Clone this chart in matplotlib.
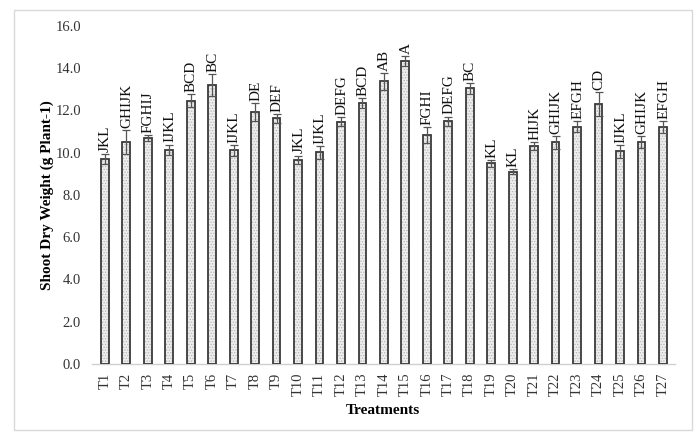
import matplotlib
matplotlib.use("Agg")
import matplotlib.pyplot as plt
from matplotlib.patches import Rectangle
from matplotlib.ticker import FormatStrFormatter

treatments = [f"T{i}" for i in range(1, 28)]
shoot_dry_weight = [9.70, 10.49, 10.67, 10.14, 12.45, 13.19, 10.10, 11.90, 11.62,
                    9.67, 10.01, 11.46, 12.33, 13.36, 14.34, 10.83, 11.48, 13.03,
                    9.50, 9.10, 10.30, 10.49, 11.23, 12.30, 10.06, 10.49, 11.20]
std_error = [0.24, 0.58, 0.14, 0.24, 0.31, 0.52, 0.24, 0.42, 0.20,
             0.19, 0.31, 0.20, 0.24, 0.40, 0.24, 0.36, 0.22, 0.24,
             0.16, 0.12, 0.20, 0.31, 0.28, 0.55, 0.30, 0.27, 0.27]
groups = ["JKL", "GHIJK", "FGHIJ", "IJKL", "BCD", "BC", "IJKL", "DE", "DEF",
          "JKL", "IJKL", "DEFG", "BCD", "AB", "A", "FGHI", "DEFG", "BC",
          "KL", "KL", "HIJK", "GHIJK", "EFGH", "CD", "IJKL", "GHIJK", "EFGH"]

plt.rcParams["font.family"] = ["Liberation Serif", "DejaVu Serif"]
plt.rcParams["hatch.linewidth"] = 0.6

fig = plt.figure(figsize=(6.97, 4.34), dpi=100)
ax = fig.add_axes([0.132, 0.161, 0.836, 0.780])

# outer chart frame
fig.patches.append(Rectangle((0.020, 0.009), 0.973, 0.968, transform=fig.transFigure,
                             fill=False, edgecolor="#d9d9d9", linewidth=1.0))

x = list(range(len(treatments)))
width = 0.36
# dotted fill
ax.bar(x, shoot_dry_weight, width=width, color="#eeeeee", edgecolor="#b4b4b4",
       hatch="......", linewidth=0, zorder=2)
# dark outline
ax.bar(x, shoot_dry_weight, width=width, fill=False, edgecolor="#3a3a3a",
       linewidth=1.3, zorder=3)
ax.errorbar(x, shoot_dry_weight, yerr=std_error, fmt="none", ecolor="#555555",
            elinewidth=0.9, capsize=3, capthick=0.9, zorder=4)

for xi, v, e, g in zip(x, shoot_dry_weight, std_error, groups):
    ax.annotate(g, (xi, v + e), xytext=(0.5, 1.5), textcoords="offset points",
                rotation=90, ha="center", va="bottom", fontsize=11, color="#111111")

ax.set_xlim(-0.6, 26.55)
ax.set_ylim(0, 16)
ax.set_yticks([0, 2, 4, 6, 8, 10, 12, 14, 16])
ax.yaxis.set_major_formatter(FormatStrFormatter("%.1f"))
ax.set_xticks(x)
ax.set_xticklabels(treatments, rotation=90)
ax.tick_params(axis="y", length=0, pad=8, labelsize=10.5, labelcolor="#333333")
ax.tick_params(axis="x", length=0, pad=6, labelsize=10.5, labelcolor="#333333")

for side in ["top", "right", "left"]:
    ax.spines[side].set_visible(False)
ax.spines["bottom"].set_color("#d0d0d0")
ax.spines["bottom"].set_linewidth(1.0)

ax.set_xlabel("Treatments", fontsize=11, fontweight="bold", labelpad=6)
ax.set_ylabel("Shoot Dry Weight (g Plant-1)", fontsize=11, fontweight="bold", labelpad=1)

fig.savefig("out.png", dpi=100)
